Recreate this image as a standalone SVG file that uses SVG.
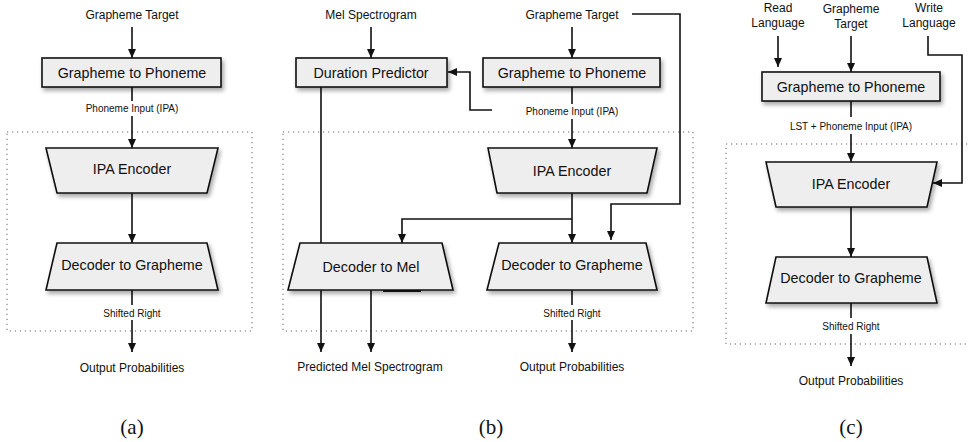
<svg xmlns="http://www.w3.org/2000/svg" width="969" height="442" viewBox="0 0 969 442">
<defs>
<style>
.t{font-family:"Liberation Sans",Arial,sans-serif;font-size:12px;fill:#111;text-anchor:middle}
.b{font-family:"Liberation Sans",Arial,sans-serif;font-size:14.3px;fill:#111;text-anchor:middle}
.s{font-family:"Liberation Sans",Arial,sans-serif;font-size:10px;fill:#111;text-anchor:middle}
.cap{font-family:"Liberation Serif","Times New Roman",serif;font-size:21px;fill:#111;text-anchor:middle}
.node{fill:#eeeeee;stroke:#111;stroke-width:1.6;filter:url(#sh)}
.c{fill:none;stroke:#111;stroke-width:1.6}
.a{marker-end:url(#ah)}
.dot{fill:none;stroke:#999;stroke-width:1.5;stroke-dasharray:1.2 3.8}
</style>
<filter id="sh" x="-10%" y="-20%" width="130%" height="160%">
<feDropShadow dx="2" dy="3" stdDeviation="2" flood-color="#000" flood-opacity="0.35"/>
</filter>
<marker id="ah" markerWidth="10" markerHeight="10" refX="9" refY="5" orient="auto" markerUnits="userSpaceOnUse">
<path d="M0,1 L9,5 L0,9 Z" fill="#111"/>
</marker>
</defs>
<rect width="969" height="442" fill="#fff"/>

<!-- dotted frames -->
<g id="frames">
<rect class="dot" x="7" y="132" width="245" height="199"/>
<rect class="dot" x="283" y="132" width="410" height="199"/>
<rect class="dot" x="726" y="144" width="260" height="200"/>
</g>

<g id="connectors">
<!-- (a) -->
<line class="c a" x1="132" y1="27" x2="132" y2="58"/>
<line class="c" x1="132" y1="87" x2="132" y2="101"/>
<line class="c a" x1="132" y1="116" x2="132" y2="148"/>
<line class="c a" x1="132" y1="193" x2="132" y2="243"/>
<line class="c" x1="132" y1="290" x2="132" y2="305"/>
<line class="c a" x1="132" y1="320" x2="132" y2="352"/>
<!-- (b) -->
<line class="c a" x1="371" y1="27" x2="371" y2="58"/>
<line class="c a" x1="572" y1="27" x2="572" y2="58"/>
<polyline class="c a" points="632,14 680,14 680,204 611,204 611,240"/>
<line class="c" x1="572" y1="87" x2="572" y2="104"/>
<line class="c a" x1="572" y1="119" x2="572" y2="148"/>
<polyline class="c a" points="492,110 470,110 470,72 448,72"/>
<line class="c a" x1="572" y1="193" x2="572" y2="243"/>
<polyline class="c a" points="572,219 402,219 402,243"/>
<line class="c" x1="321" y1="87" x2="321" y2="243"/>
<line class="c a" x1="321" y1="290" x2="321" y2="352"/>
<line class="c a" x1="371" y1="290" x2="371" y2="352"/>
<line class="c" x1="572" y1="290" x2="572" y2="305"/>
<line class="c a" x1="572" y1="320" x2="572" y2="352"/>
<!-- (c) -->
<line class="c a" x1="778" y1="36" x2="778" y2="67"/>
<line class="c a" x1="851" y1="36" x2="851" y2="72"/>
<polyline class="c a" points="928,36 928,55 962,55 962,183 933,183"/>
<line class="c" x1="851" y1="101" x2="851" y2="117"/>
<line class="c a" x1="851" y1="134" x2="851" y2="162"/>
<line class="c a" x1="851" y1="207" x2="851" y2="257"/>
<line class="c" x1="851" y1="303" x2="851" y2="318"/>
<line class="c a" x1="851" y1="334" x2="851" y2="366"/>
</g>

<!-- panel (a) nodes -->
<g id="a-g2p"><rect class="node" x="42" y="58" width="179" height="29"/><text class="b" x="132" y="78">Grapheme to Phoneme</text></g>
<g id="a-enc"><polygon class="node" points="46,148 218,148 207,193 57,193"/><text class="b" x="132" y="174">IPA Encoder</text></g>
<g id="a-dec"><polygon class="node" points="57,243 207,243 218,290 46,290"/><text class="b" x="132" y="270">Decoder to Grapheme</text></g>

<!-- panel (b) nodes -->
<g id="b-dur"><rect class="node" x="296" y="58" width="151" height="29"/><text class="b" x="371" y="78">Duration Predictor</text></g>
<g id="b-g2p"><rect class="node" x="483" y="58" width="177" height="29"/><text class="b" x="572" y="78">Grapheme to Phoneme</text></g>
<g id="b-enc"><polygon class="node" points="488,148 657,148 647,193 497,193"/><text class="b" x="572" y="176">IPA Encoder</text></g>
<g id="b-mel"><polygon class="node" points="300,243 442,243 453,290 288,290"/><text class="b" x="371" y="272">Decoder to Mel</text><line x1="383" y1="291" x2="421" y2="291" stroke="#111" stroke-width="2"/></g>
<g id="b-dec"><polygon class="node" points="499,243 646,243 657,290 487,290"/><text class="b" x="572" y="270">Decoder to Grapheme</text></g>

<!-- panel (c) nodes -->
<g id="c-g2p"><rect class="node" x="762" y="72" width="178" height="29"/><text class="b" x="851" y="92">Grapheme to Phoneme</text></g>
<g id="c-enc"><polygon class="node" points="766,162 937,162 927,207 776,207"/><text class="b" x="851" y="189">IPA Encoder</text></g>
<g id="c-dec"><polygon class="node" points="776,257 927,257 937,303 766,303"/><text class="b" x="851" y="283">Decoder to Grapheme</text></g>

<g id="labels">
<text class="t" x="132" y="19">Grapheme Target</text>
<text class="s" x="132" y="112">Phoneme Input (IPA)</text>
<text class="s" x="132" y="317">Shifted Right</text>
<text class="t" x="132" y="372">Output Probabilities</text>
<text class="cap" x="132" y="434">(a)</text>

<text class="t" x="371" y="19">Mel Spectrogram</text>
<text class="t" x="572" y="19">Grapheme Target</text>
<text class="s" x="572" y="115">Phoneme Input (IPA)</text>
<text class="s" x="572" y="317">Shifted Right</text>
<text class="t" x="370" y="371">Predicted Mel Spectrogram</text>
<text class="t" x="572" y="371">Output Probabilities</text>
<text class="cap" x="491" y="434">(b)</text>

<text class="t" x="778" y="12">Read</text>
<text class="t" x="778" y="27">Language</text>
<text class="t" x="851" y="13">Grapheme</text>
<text class="t" x="851" y="28">Target</text>
<text class="t" x="929" y="12">Write</text>
<text class="t" x="929" y="27">Language</text>
<text class="s" x="851" y="130">LST + Phoneme Input (IPA)</text>
<text class="s" x="851" y="330">Shifted Right</text>
<text class="t" x="851" y="385">Output Probabilities</text>
<text class="cap" x="851" y="434">(c)</text>
</g>
</svg>
